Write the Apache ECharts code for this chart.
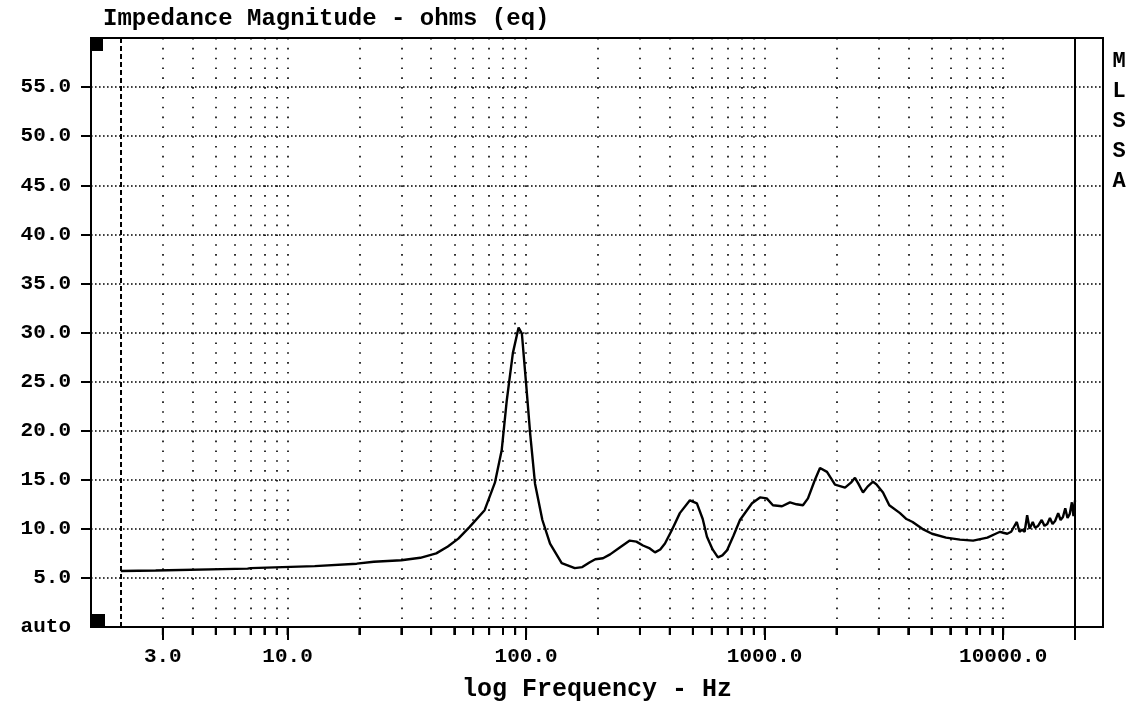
<!DOCTYPE html>
<html><head><meta charset="utf-8">
<script src="https://cdn.jsdelivr.net/npm/echarts@6/dist/echarts.min.js"></script>
<style>html,body{margin:0;padding:0;background:#fff}#c{width:1142px;height:711px}</style>
</head><body><div id="c"></div>
<script>
const freqHz = [2.0, 2.8, 2.85, 6.8, 7.0, 13, 19.5, 23, 30, 36, 42, 47, 52, 58, 67, 74, 79, 83, 88, 93, 96, 100, 104, 109, 117, 126, 141, 160, 172, 185, 195, 210, 225, 247, 272, 290, 309, 330, 347, 365, 382, 409, 441, 486, 520, 550, 573, 605, 637, 665, 695, 740, 788, 885, 956, 1020, 1083, 1182, 1277, 1360, 1447, 1519, 1625, 1706, 1825, 1972, 2172, 2300, 2391, 2470, 2584, 2700, 2846, 2950, 3134, 3330, 3693, 3930, 4170, 4580, 5030, 5760, 6590, 7480, 8580, 9300, 9700, 10000, 10400, 10800, 11000, 11400, 11700, 12000, 12300, 12600, 12900, 13300, 13600, 14000, 14500, 14900, 15300, 15700, 16100, 16500, 17000, 17400, 17800, 18200, 18600, 19000, 19400, 19700, 20000];
const impedanceOhms = [5.7, 5.75, 5.9, 5.95, 6.0, 6.2, 6.45, 6.65, 6.8, 7.05, 7.5, 8.2, 9.0, 10.2, 11.9, 14.7, 18.0, 23.1, 27.9, 30.5, 29.9, 24.8, 19.7, 14.6, 10.9, 8.5, 6.5, 6.0, 6.1, 6.6, 6.9, 7.0, 7.4, 8.1, 8.8, 8.7, 8.3, 8.0, 7.6, 7.9, 8.5, 9.9, 11.6, 12.9, 12.6, 11.0, 9.2, 7.9, 7.1, 7.3, 7.8, 9.3, 10.9, 12.6, 13.2, 13.1, 12.4, 12.3, 12.7, 12.5, 12.4, 13.1, 15.0, 16.2, 15.8, 14.5, 14.2, 14.7, 15.2, 14.6, 13.7, 14.3, 14.8, 14.5, 13.7, 12.4, 11.6, 11.0, 10.7, 10.0, 9.5, 9.1, 8.9, 8.8, 9.1, 9.5, 9.7, 9.6, 9.5, 9.7, 9.6, 10.7, 9.7, 9.9, 9.7, 11.4, 10.0, 10.7, 10.1, 10.3, 10.9, 10.3, 10.5, 11.1, 10.5, 10.8, 11.6, 10.9, 11.2, 12.1, 11.1, 11.5, 12.7, 11.3, 12.9];
const xLabelValues = [3, 10, 100, 1000, 10000];
const xMajorTickValues = [3, 10, 100, 1000, 10000, 20000];
const xGridValues = [3, 4, 5, 6, 7, 8, 9, 10, 20, 30, 40, 50, 60, 70, 80, 90, 100, 200, 300, 400, 500, 600, 700, 800, 900, 1000, 2000, 3000, 4000, 5000, 6000, 7000, 8000, 9000, 10000, 20000];
const yTickValues = [5, 10, 15, 20, 25, 30, 35, 40, 45, 50, 55];
const startMarkerHz = 2;
const endMarkerHz = 20000;
const titleText = 'Impedance Magnitude - ohms (eq)';
const xAxisName = 'log Frequency - Hz';
const sideText = 'MLSSA';

const FONT = "'Liberation Mono', 'DejaVu Sans Mono', monospace";
const X_MIN = 1.5, X_MAX = 26200;

const chart = echarts.init(document.getElementById('c'));
const option = {
  animation: false,
  backgroundColor: '#fff',
  title: {
    text: titleText, left: 98, top: 2,
    textStyle: { fontFamily: FONT, fontWeight: 'bold', fontSize: 24, color: '#000' }
  },
  grid: { left: 91, right: 39, top: 38, bottom: 84, show: true, borderColor: '#000', borderWidth: 2, backgroundColor: 'transparent' },
  xAxis: [{
    type: 'log', logBase: 10, min: X_MIN, max: X_MAX, position: 'bottom', gridIndex: 0,
    name: xAxisName, nameLocation: 'middle', nameGap: 50,
    nameTextStyle: { fontFamily: FONT, fontWeight: 'bold', fontSize: 25, color: '#000' },
    axisLine: { show: true, lineStyle: { color: '#000', width: 2 } },
    axisTick: { show: true, customValues: xMajorTickValues, length: 13, lineStyle: { color: '#000', width: 2 } },
    axisLabel: { show: true, customValues: xLabelValues, margin: 19, fontFamily: FONT, fontWeight: 'bold', fontSize: 21, color: '#000',
      formatter: v => Number(v).toFixed(1) },
    splitLine: { show: false }
  }, {
    type: 'log', logBase: 10, min: X_MIN, max: X_MAX, position: 'bottom', gridIndex: 0,
    axisLine: { show: false },
    axisTick: { show: true, customValues: xGridValues, length: 8, lineStyle: { color: '#000', width: 2 } },
    axisLabel: { show: false },
    splitLine: { show: true, lineStyle: { color: '#000', width: 1.6, type: [1.6, 8.22] } }
  }],
  yAxis: {
    type: 'value', min: 0, max: 60, interval: 5,
    axisLine: { show: true, lineStyle: { color: '#000', width: 2 } },
    axisTick: { show: true, customValues: yTickValues, length: 10, lineStyle: { color: '#000', width: 2 } },
    axisLabel: { margin: 20, fontFamily: FONT, fontWeight: 'bold', fontSize: 21, color: '#000',
      formatter: v => v === 0 ? 'auto' : (v >= 60 ? '' : v.toFixed(1)) },
    splitLine: { show: true, lineStyle: { color: '#000', width: 1.6, type: [1.6, 2.4] } }
  },
  series: [{
    type: 'line', xAxisIndex: 0, yAxisIndex: 0,
    data: freqHz.map((f, i) => [f, impedanceOhms[i]]),
    showSymbol: false, symbol: 'none',
    lineStyle: { color: '#000', width: 2.4 },
    markLine: {
      silent: true, symbol: 'none', label: { show: false },
      data: [
        { xAxis: startMarkerHz, lineStyle: { color: '#000', width: 2, type: [5, 3] } },
        { xAxis: endMarkerHz, lineStyle: { color: '#000', width: 2, type: 'solid' } }
      ]
    }
  }, {
    // short frequency ticks under the axis at every grid value
    type: 'custom', xAxisIndex: 0, yAxisIndex: 0, silent: true, clip: false,
    data: xGridValues.map(v => [v, 0]),
    renderItem: (params, api) => {
      const p = api.coord([api.value(0), api.value(1)]);
      return { type: 'line', shape: { x1: p[0], y1: p[1], x2: p[0], y2: p[1] + 8 }, style: { stroke: '#000', lineWidth: 2 } };
    }
  }],
  graphic: [
    { type: 'rect', shape: { x: 92, y: 39, width: 11, height: 12 }, style: { fill: '#000' } },
    { type: 'rect', shape: { x: 92, y: 614, width: 13, height: 13 }, style: { fill: '#000' } },
    { type: 'text', x: 1119, y: 46, style: { text: sideText.split('').join('\n'), fontFamily: FONT, fontWeight: 'bold', fontSize: 22, lineHeight: 30, fill: '#000', align: 'center', verticalAlign: 'top' } }
  ]
};
chart.setOption(option);
</script></body></html>
